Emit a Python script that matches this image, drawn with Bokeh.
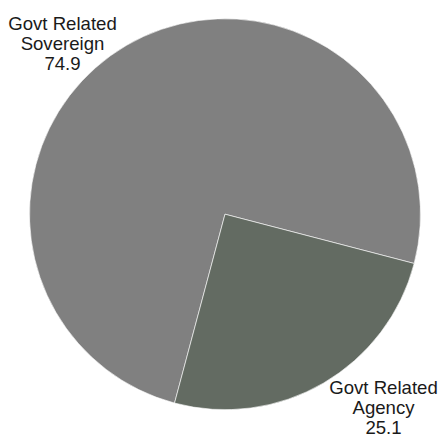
import math
from bokeh.plotting import figure
from bokeh.models import Range1d, ColumnDataSource
from bokeh.core.properties import value
from bokeh.embed import file_html
from bokeh.resources import INLINE

categories = ["Govt Related\nSovereign", "Govt Related\nAgency"]
values = [74.9, 25.1]
colors = ["#808080", "#636b62"]

W, H = 439, 436
cx, cy, r = 224.5, H - 213.7, 195.5
start_deg = -14.6

total = sum(values)
starts, ends = [], []
a = math.radians(start_deg)
for v in values:
    starts.append(a)
    a += v / total * 2 * math.pi
    ends.append(a)

src = ColumnDataSource(dict(start=starts, end=ends, color=colors))

p = figure(width=W, height=H, output_backend="svg", toolbar_location=None,
           x_range=Range1d(0, W), y_range=Range1d(0, H), min_border=0)
p.axis.visible = False
p.grid.visible = False
p.outline_line_color = None

p.wedge(x=cx, y=cy, radius=r, start_angle="start", end_angle="end",
        fill_color="color", line_color="white", line_width=0.6, source=src)

label_xy = [(62, H - 43), (383, H - 407)]
lx = [xy[0] for xy in label_xy]
ly = [xy[1] for xy in label_xy]
texts = [f"{c}\n{v}" for c, v in zip(categories, values)]
p.text(x=lx, y=ly, text=texts, text_align="center", text_baseline="middle",
       text_font=value("Liberation Sans"), text_font_size="18.6px",
       text_color="#1a1a1a", text_line_height=0.97)

open("out.html", "w").write(file_html(p, INLINE))
